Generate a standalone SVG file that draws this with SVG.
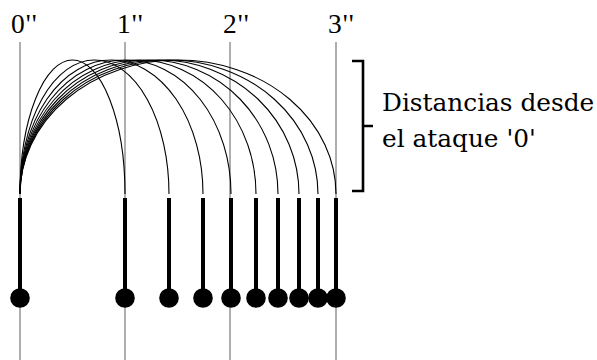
<svg xmlns="http://www.w3.org/2000/svg" width="597" height="360" viewBox="0 0 597 360">
<style>
.grid{stroke:#9a9a9a;stroke-width:1.6;fill:none}
.arc{stroke:#000;stroke-width:1.1;fill:none}
.stem{stroke:#000;stroke-width:4;fill:none}
.dot{fill:#000}
.lbl{font-family:"Liberation Serif","DejaVu Serif",serif;font-size:27.5px;letter-spacing:1px;fill:#000}
.note{font-family:"DejaVu Serif","Liberation Serif",serif;font-size:24.8px;fill:#000}
.br{stroke:#000;stroke-width:2.6;fill:none}
</style>
<rect width="597" height="360" fill="#fff"/>
<g id="grid">
<line class="grid" x1="20" y1="42" x2="20" y2="360"/>
<line class="grid" x1="125" y1="42" x2="125" y2="360"/>
<line class="grid" x1="230" y1="42" x2="230" y2="360"/>
<line class="grid" x1="336" y1="42" x2="336" y2="360"/>
</g>
<g id="labels">
<text class="lbl" x="11" y="33">0''</text>
<text class="lbl" x="117" y="33">1''</text>
<text class="lbl" x="223" y="33">2''</text>
<text class="lbl" x="328" y="33">3''</text>
</g>
<g id="connectors">
<path class="arc" d="M20,194 A52.5,134 0 0 1 125,194"/>
<path class="arc" d="M20,194 A74.5,134 0 0 1 169,194"/>
<path class="arc" d="M20,194 A91.5,134 0 0 1 203,194"/>
<path class="arc" d="M20,194 A105.5,134 0 0 1 231,194"/>
<path class="arc" d="M20,194 A118,134 0 0 1 256,194"/>
<path class="arc" d="M20,194 A129,134 0 0 1 278,194"/>
<path class="arc" d="M20,194 A139.5,134 0 0 1 299,194"/>
<path class="arc" d="M20,194 A149,134 0 0 1 318,194"/>
<path class="arc" d="M20,194 A158,134 0 0 1 336,194"/>
</g>
<g id="n0"><line class="stem" x1="20" y1="198" x2="20" y2="298"/><circle class="dot" cx="20" cy="298" r="9.8"/></g>
<g id="n1"><line class="stem" x1="125" y1="198" x2="125" y2="298"/><circle class="dot" cx="125" cy="298" r="9.8"/></g>
<g id="n2"><line class="stem" x1="169" y1="198" x2="169" y2="298"/><circle class="dot" cx="169" cy="298" r="9.8"/></g>
<g id="n3"><line class="stem" x1="203" y1="198" x2="203" y2="298"/><circle class="dot" cx="203" cy="298" r="9.8"/></g>
<g id="n4"><line class="stem" x1="231" y1="198" x2="231" y2="298"/><circle class="dot" cx="231" cy="298" r="9.8"/></g>
<g id="n5"><line class="stem" x1="256" y1="198" x2="256" y2="298"/><circle class="dot" cx="256" cy="298" r="9.8"/></g>
<g id="n6"><line class="stem" x1="278" y1="198" x2="278" y2="298"/><circle class="dot" cx="278" cy="298" r="9.8"/></g>
<g id="n7"><line class="stem" x1="299" y1="198" x2="299" y2="298"/><circle class="dot" cx="299" cy="298" r="9.8"/></g>
<g id="n8"><line class="stem" x1="318" y1="198" x2="318" y2="298"/><circle class="dot" cx="318" cy="298" r="9.8"/></g>
<g id="n9"><line class="stem" x1="336" y1="198" x2="336" y2="298"/><circle class="dot" cx="336" cy="298" r="9.8"/></g>
<g id="bracket">
<path class="br" d="M352,61 H363 V191 H352 M363,126 H373"/>
<text class="note" x="382" y="111">Distancias desde</text>
<text class="note" x="382" y="147">el ataque '0'</text>
</g>
</svg>
